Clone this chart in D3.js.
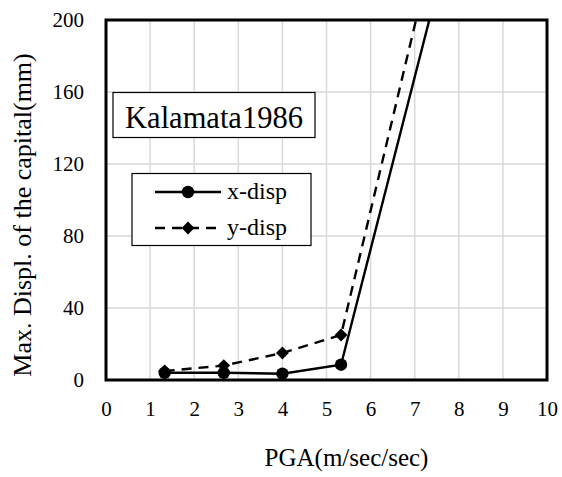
<!DOCTYPE html>
<html>
<head>
<meta charset="utf-8">
<script src="https://cdn.jsdelivr.net/npm/d3@7"></script>
<style>
  body { margin: 0; background: #fff; }
  text { font-family: "Liberation Serif", "Times New Roman", serif; fill: #000; }
</style>
</head>
<body>
<svg id="chart" width="562" height="477" font-family='"Liberation Serif", "Times New Roman", serif'></svg>
<script>
// data
var pga = [1.33, 2.67, 4.0, 5.33, 8.0];
var xDisp = [4, 4, 3.5, 8.5, 264];
var yDisp = [5, 8, 15, 25, 300];
var xTicks = [0, 1, 2, 3, 4, 5, 6, 7, 8, 9, 10];
var yTicks = [0, 40, 80, 120, 160, 200];
var seriesNames = ["x-disp", "y-disp"];
var caseLabel = "Kalamata1986";

// plot box
var plotLeft = 106, plotRight = 547, plotTop = 20, plotBottom = 380;
var gridColour = '#d9d9d9';
var tickFont = 21;
var lineWidth = 2.4;
var dash = "10,7";
var serif = '"Liberation Serif", "Times New Roman", serif';

var svg = d3.select("#chart");

var x = d3.scaleLinear().domain([0, 10]).range([plotLeft, plotRight]);
var y = d3.scaleLinear().domain([0, 200]).range([plotBottom, plotTop]);

svg.append("defs").append("clipPath")
  .attr("id", "plotclip")
  .append("rect")
  .attr("x", plotLeft).attr("y", plotTop)
  .attr("width", plotRight - plotLeft).attr("height", plotBottom - plotTop);

// gridlines
svg.append("g").selectAll("line")
  .data(xTicks.slice(1, -1))
  .enter().append("line")
  .attr("x1", function (d) { return x(d); })
  .attr("x2", function (d) { return x(d); })
  .attr("y1", plotTop).attr("y2", plotBottom)
  .attr("stroke", gridColour).attr("stroke-width", 1.5);

svg.append("g").selectAll("line")
  .data(yTicks.slice(1, -1))
  .enter().append("line")
  .attr("y1", function (d) { return y(d); })
  .attr("y2", function (d) { return y(d); })
  .attr("x1", plotLeft).attr("x2", plotRight)
  .attr("stroke", gridColour).attr("stroke-width", 1.5);

// axes (labels only, frame drawn below)
var xAxis = svg.append("g")
  .attr("transform", "translate(0," + plotBottom + ")")
  .call(d3.axisBottom(x).tickValues(xTicks).tickSize(0).tickPadding(21));
var yAxis = svg.append("g")
  .attr("transform", "translate(" + plotLeft + ",0)")
  .call(d3.axisLeft(y).tickValues(yTicks).tickSize(0).tickPadding(22));
[xAxis, yAxis].forEach(function (a) {
  a.select(".domain").remove();
  a.selectAll("text")
    .attr("font-size", tickFont)
    .attr("font-family", serif);
});

// series
var lineGen = d3.line()
  .x(function (d) { return x(d[0]); })
  .y(function (d) { return y(d[1]); });

var plot = svg.append("g").attr("clip-path", "url(#plotclip)");
var xPts = pga.map(function (p, i) { return [p, xDisp[i]]; });
var yPts = pga.map(function (p, i) { return [p, yDisp[i]]; });

plot.append("path").datum(yPts)
  .attr("d", lineGen).attr("fill", "none")
  .attr("stroke", "#000").attr("stroke-width", lineWidth)
  .attr("stroke-dasharray", dash);
plot.append("path").datum(xPts)
  .attr("d", lineGen).attr("fill", "none")
  .attr("stroke", "#000").attr("stroke-width", lineWidth);

var diamond = d3.symbol().type(d3.symbolDiamond2).size(105);
plot.selectAll("path.ym").data(yPts).enter().append("path")
  .attr("class", "ym")
  .attr("d", diamond)
  .attr("transform", function (d) { return "translate(" + x(d[0]) + "," + y(d[1]) + ")"; })
  .attr("fill", "#000");
plot.selectAll("circle.xm").data(xPts).enter().append("circle")
  .attr("class", "xm")
  .attr("cx", function (d) { return x(d[0]); })
  .attr("cy", function (d) { return y(d[1]); })
  .attr("r", 6.2).attr("fill", "#000");

// frame
svg.append("rect")
  .attr("x", plotLeft).attr("y", plotTop)
  .attr("width", plotRight - plotLeft).attr("height", plotBottom - plotTop)
  .attr("fill", "none").attr("stroke", "#000").attr("stroke-width", 3);

// case label box
svg.append("rect")
  .attr("x", 113).attr("y", 92.5).attr("width", 202).attr("height", 45)
  .attr("fill", "#fff").attr("stroke", "#000").attr("stroke-width", 1.2);
svg.append("text")
  .attr("x", 214).attr("y", 128)
  .attr("text-anchor", "middle").attr("font-size", 30.5)
  .attr("font-family", serif)
  .text(caseLabel);

// legend
var legend = svg.append("g");
legend.append("rect")
  .attr("x", 132).attr("y", 173.5).attr("width", 179).attr("height", 72)
  .attr("fill", "#fff").attr("stroke", "#000").attr("stroke-width", 1.2);
var rowY = [192, 228];
legend.append("line")
  .attr("x1", 155).attr("x2", 221).attr("y1", rowY[0]).attr("y2", rowY[0])
  .attr("stroke", "#000").attr("stroke-width", lineWidth);
legend.append("circle").attr("cx", 188).attr("cy", rowY[0]).attr("r", 6.2).attr("fill", "#000");
legend.append("line")
  .attr("x1", 155).attr("x2", 221).attr("y1", rowY[1]).attr("y2", rowY[1])
  .attr("stroke", "#000").attr("stroke-width", lineWidth)
  .attr("stroke-dasharray", dash);
legend.append("path").attr("d", diamond)
  .attr("transform", "translate(188," + rowY[1] + ")").attr("fill", "#000");
legend.selectAll("text.lg").data(seriesNames).enter().append("text")
  .attr("class", "lg")
  .attr("x", 227).attr("y", function (d, i) { return rowY[i] + 7; })
  .attr("font-size", 24).attr("font-family", serif)
  .text(function (d) { return d; });

// axis titles
svg.append("text")
  .attr("x", (plotLeft + plotRight) / 2 + 20).attr("y", 466)
  .attr("text-anchor", "middle").attr("font-size", 25)
  .attr("font-family", serif)
  .text("PGA(m/sec/sec)");
svg.append("text")
  .attr("transform", "translate(31," + ((plotTop + plotBottom) / 2 + 15) + ") rotate(-90)")
  .attr("text-anchor", "middle").attr("font-size", 26)
  .attr("font-family", serif)
  .text("Max. Displ. of the capital(mm)");
</script>
</body>
</html>
